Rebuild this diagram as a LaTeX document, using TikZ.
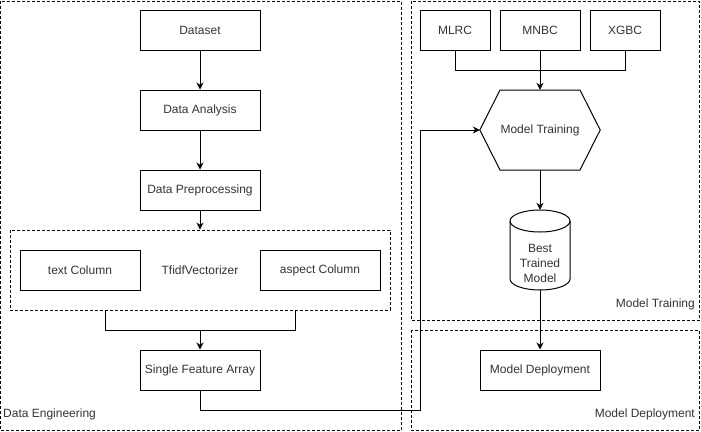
\documentclass[tikz,border=0pt]{standalone}
\usepackage{fontspec}
\setmainfont{Liberation Sans}
\usetikzlibrary{arrows.meta}
\definecolor{txt}{HTML}{333333}
\begin{document}
\begin{tikzpicture}[x=1pt,y=-1pt,
  every node/.style={font=\fontsize{12}{14}\selectfont, text=txt},
  box/.style={draw=black, line width=1pt, minimum width=#1, minimum height=40pt, inner sep=0pt},
  box/.default=120pt,
  ghost/.style={minimum width=#1, inner sep=0pt},
  grp/.style={draw=black, line width=0.9pt, dash pattern=on 3pt off 2pt},
  conn/.style={line width=1pt, draw=black},
  arr/.style={conn, -{Stealth[length=7pt,width=7pt]}},
  lbl/.style={inner sep=0pt}
]
\useasboundingbox (0,0) rectangle (701,431);
% groups
\draw[grp] (0.5,1) rectangle (401,430);
\draw[grp] (411,1) rectangle (699.5,320);
\draw[grp] (411,330) rectangle (699.5,430);
\node[lbl, anchor=west] (lde) at (3,414) {Data Engineering};
\node[lbl, anchor=east] (lmt) at (695,304) {Model Training};
\node[lbl, anchor=east] (lmd) at (695,414) {Model Deployment};
% tfidf group
\node[grp, minimum width=380pt, minimum height=80pt, inner sep=0pt] (tf) at (200,270) {};
\node[lbl] (tfl) at (200,270) {TfidfVectorizer};
% left nodes
\node[box] (ds) at (200,30) {Dataset};
\node[box] (da) at (200,110) {Data Analysis};
\node[box] (dp) at (200,190) {Data Preprocessing};
\node[box] (tc) at (80,270) {text Column};
\node[box] (ac) at (320,270) {aspect Column};
\node[box] (sf) at (200,370) {Single Feature Array};
% right nodes
\node[box=70pt] (ml) at (455,30) {MLRC};
\node[box=80pt] (mn) at (540,30) {MNBC};
\node[box=70pt] (xg) at (625,30) {XGBC};
\node[ghost=120pt, minimum height=80pt] (mt) at (540,130) {Model Training};
\draw[conn] (mt.west) -- (500,90) -- (580,90) -- (mt.east) -- (580,170) -- (500,170) -- cycle;
\node[ghost=60pt, minimum height=80pt] (bt) at (540,250) {};
\draw[conn] (510,221) arc[start angle=180, end angle=360, x radius=30, y radius=11]
  -- (570,279) arc[start angle=0, end angle=180, x radius=30, y radius=11] -- cycle;
\draw[conn] (510,221) arc[start angle=180, end angle=0, x radius=30, y radius=11];
\node[lbl, align=center, font=\fontsize{12}{15}\selectfont] (btl) at (540,263) {Best\\Trained\\Model};
\node[box] (md) at (540,370) {Model Deployment};
% connectors
\draw[arr] (ds) -- (da);
\draw[arr] (da) -- (dp);
\draw[arr] (dp) -- (tf);
\coordinate (jl) at (105,330);
\coordinate (jr) at (295,330);
\draw[conn] (tf.south -| jl) -- (jl) -- (jr) -- (tf.south -| jr);
\draw[arr] (200,330) -- (sf);
\draw[arr] (sf.south) -- (200,410) -- (420,410) -- (420,130) -- (mt.west);
\coordinate (jm) at (455,70);
\coordinate (jx) at (625,70);
\draw[conn] (ml.south) -- (jm) -- (jx) -- (xg.south);
\draw[arr] (mn.south) -- (mt.north);
\draw[arr] (mt.south) -- (bt.north);
\draw[arr] (bt.south) -- (md.north);
\end{tikzpicture}
\end{document}
